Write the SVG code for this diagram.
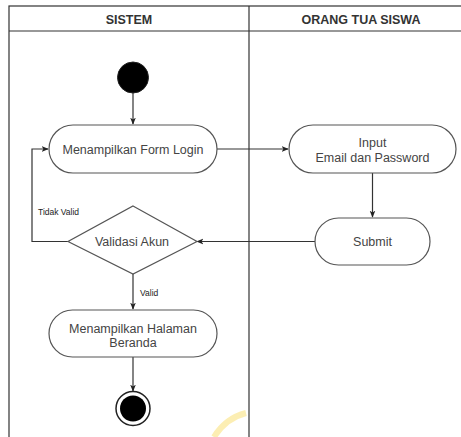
<svg xmlns="http://www.w3.org/2000/svg" width="461" height="437" viewBox="0 0 461 437">
  <defs>
    <marker id="arrow" viewBox="0 0 10 10" refX="9" refY="5" markerWidth="7" markerHeight="7" orient="auto" markerUnits="userSpaceOnUse">
      <path d="M0,1 L10,5 L0,9 L2.5,5 Z" fill="#222"/>
    </marker>
    <style>
      .lane { fill: none; stroke: #333; stroke-width: 1.2; }
      .hdr { font-family: "Liberation Sans", Arial, sans-serif; font-size: 12.5px; font-weight: bold; fill: #333; text-anchor: middle; }
      .act { fill: #fff; stroke: #555; stroke-width: 1.2; }
      .lbl { font-family: "Liberation Sans", Arial, sans-serif; font-size: 12.5px; fill: #444; text-anchor: middle; }
      .small { font-family: "Liberation Sans", Arial, sans-serif; font-size: 8.5px; fill: #222; }
      .edge { fill: none; stroke: #333; stroke-width: 1.2; marker-end: url(#arrow); }
    </style>
  </defs>

  <rect width="461" height="437" fill="#fff"/>

  <!-- swimlanes -->
  <g id="lanes">
    <rect class="lane" x="9" y="6" width="464" height="480"/>
    <line class="lane" x1="9" y1="31" x2="473" y2="31"/>
    <line class="lane" x1="249" y1="6" x2="249" y2="437"/>
    <text class="hdr" x="129" y="23.5">SISTEM</text>
    <text class="hdr" x="361" y="23.5">ORANG TUA SISWA</text>
  </g>

  <!-- connectors -->
  <g id="connectors">
    <line class="edge" x1="133" y1="93" x2="133" y2="124"/>
    <line class="edge" x1="217" y1="149" x2="288" y2="149"/>
    <line class="edge" x1="372.5" y1="173" x2="372.5" y2="217"/>
    <line class="edge" x1="315" y1="241.5" x2="197" y2="241.5"/>
    <polyline class="edge" points="68,241.5 32,241.5 32,149 48,149"/>
    <line class="edge" x1="133" y1="274" x2="133" y2="309"/>
    <line class="edge" x1="133" y1="357" x2="133" y2="391"/>
    <text class="small" x="38" y="215">Tidak Valid</text>
    <text class="small" x="140" y="296">Valid</text>
  </g>

  <g id="start">
    <circle cx="133" cy="77.5" r="15.5" fill="#000" stroke="#222" stroke-width="1"/>
  </g>

  <g id="form-login">
    <rect class="act" x="49" y="125" width="168" height="48" rx="24"/>
    <text class="lbl" x="133" y="153.5">Menampilkan Form Login</text>
  </g>

  <g id="input">
    <rect class="act" x="289" y="125" width="167" height="48" rx="24"/>
    <text class="lbl" x="372.5" y="147">Input</text>
    <text class="lbl" x="372.5" y="161.5">Email dan Password</text>
  </g>

  <g id="submit">
    <rect class="act" x="315" y="218" width="115" height="47" rx="23.5"/>
    <text class="lbl" x="372.5" y="246">Submit</text>
  </g>

  <g id="validasi">
    <polygon class="act" points="133,206 197,241.5 133,274 68,241.5"/>
    <text class="lbl" x="132" y="246">Validasi Akun</text>
  </g>

  <g id="beranda">
    <rect class="act" x="49" y="310" width="168" height="47" rx="23.5"/>
    <text class="lbl" x="133" y="332.5">Menampilkan Halaman</text>
    <text class="lbl" x="133" y="347">Beranda</text>
  </g>

  <g id="end">
    <circle cx="133" cy="408.5" r="17" fill="#fff" stroke="#222" stroke-width="1.5"/>
    <circle cx="133" cy="408.5" r="13" fill="#000"/>
  </g>

  <!-- faint mark at the bottom edge -->
  <path d="M214,437 Q226,418 246,413" fill="none" stroke="#fbeaa0" stroke-width="6" opacity="0.8"/>
</svg>
